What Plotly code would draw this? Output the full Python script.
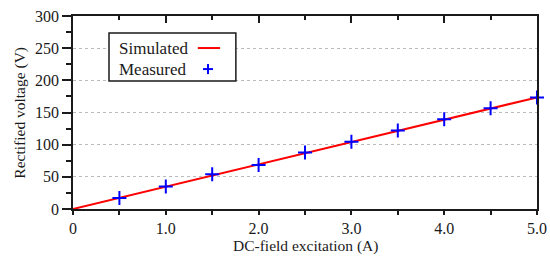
import plotly.graph_objects as go

# Data
sim_x = [0, 0.5, 1.0, 1.5, 2.0, 2.5, 3.0, 3.5, 4.0, 4.5, 5.0]
sim_y = [0, 17.3, 34.7, 52.0, 69.3, 86.7, 104.0, 121.3, 138.7, 156.0, 173.5]
meas_x = [0.5, 1.0, 1.5, 2.0, 2.5, 3.0, 3.5, 4.0, 4.5, 5.0]
meas_y = [17, 35, 54, 68.5, 88, 104.5, 122, 139.5, 156.5, 173.5]
x_tickvals = [0, 1, 2, 3, 4, 5]
x_ticktext = ["0", "1.0", "2.0", "3.0", "4.0", "5.0"]
y_tickvals = [0, 50, 100, 150, 200, 250, 300]
x_title = "DC-field excitation (A)"
y_title = "Rectified voltage (V)"

FONT = "Liberation Serif"
FS = 17      # legend text
FT = 16      # tick labels
FA = 15.5    # axis titles
INK = "#1a1a1a"

fig = go.Figure()
fig.add_trace(go.Scatter(x=sim_x, y=sim_y, mode="lines", name="Simulated",
                         line=dict(color="#ff0000", width=2), showlegend=False))
fig.add_trace(go.Scatter(x=meas_x, y=meas_y, mode="markers", name="Measured",
                         marker=dict(symbol="cross-thin", size=10,
                                     line=dict(color="#0000ff", width=2), color="#0000ff"),
                         cliponaxis=False, showlegend=False))
# carrier trace for the top (mirrored) tick axis
fig.add_trace(go.Scatter(x=sim_x, y=sim_y, xaxis="x2", mode="lines",
                         line=dict(width=0, color="rgba(0,0,0,0)"),
                         hoverinfo="skip", showlegend=False))

fig.update_layout(
    width=550, height=257,
    margin=dict(l=73, r=13, t=16, b=48),
    plot_bgcolor="white", paper_bgcolor="white",
    font=dict(family=FONT, size=FS, color=INK),
    xaxis=dict(range=[0, 5], tickvals=x_tickvals, ticktext=x_ticktext, automargin=False,
               ticks="outside", ticklen=4, tickwidth=1.5, tickcolor=INK,
               minor=dict(dtick=0.5, ticks="outside", ticklen=4, tickwidth=1.5, tickcolor=INK),
               showline=True, linecolor=INK, linewidth=1.5, mirror=True,
               showgrid=False, zeroline=False,
               tickfont=dict(family=FONT, size=FT)),
    xaxis2=dict(range=[0, 5], overlaying="x", side="top", tickvals=x_tickvals, automargin=False,
                ticks="inside", ticklen=7, tickwidth=1.5, tickcolor=INK,
                minor=dict(dtick=0.5, ticks="inside", ticklen=4, tickwidth=1.5, tickcolor=INK),
                showticklabels=False, showgrid=False, zeroline=False, showline=False),
    yaxis=dict(range=[0, 300], tickvals=y_tickvals, automargin=False,
               ticks="outside", ticklen=9, tickwidth=1.5, tickcolor=INK,
               minor=dict(dtick=25, ticks="outside", ticklen=5, tickwidth=1.5, tickcolor=INK,
                          showgrid=False),
               showline=True, linecolor=INK, linewidth=1.5, mirror=True,
               showgrid=True, gridcolor="#bbbbbb", griddash="dot", gridwidth=1,
               zeroline=False,
               tickfont=dict(family=FONT, size=FT)),
)

# Axis titles
fig.add_annotation(xref="paper", yref="paper", x=0.5, y=-0.192, xanchor="center", yanchor="middle",
                   text=x_title, showarrow=False, font=dict(family=FONT, size=FA, color=INK))
fig.add_annotation(xref="paper", yref="paper", x=-0.116, y=0.5, xanchor="center", yanchor="middle",
                   text=y_title, textangle=-90, showarrow=False,
                   font=dict(family=FONT, size=FA, color=INK))

# Custom legend box (symbols on the right, as in reference)
fig.add_shape(type="rect", xref="paper", yref="paper", x0=0.0776, x1=0.351, y0=0.663, y1=0.912,
              line=dict(color=INK, width=1.5), fillcolor="white", layer="above")
fig.add_annotation(xref="paper", yref="paper", x=0.095, y=0.834, xanchor="left", yanchor="middle",
                   text="Simulated", showarrow=False, font=dict(family=FONT, size=FS, color=INK))
fig.add_annotation(xref="paper", yref="paper", x=0.095, y=0.725, xanchor="left", yanchor="middle",
                   text="Measured", showarrow=False, font=dict(family=FONT, size=FS, color=INK))
fig.add_shape(type="line", xref="paper", yref="paper", x0=0.269, x1=0.317, y0=0.834, y1=0.834,
              line=dict(color="#ff0000", width=2), layer="above")
fig.add_shape(type="line", xref="paper", yref="paper", x0=0.291 - 0.0108, x1=0.291 + 0.0108,
              y0=0.725, y1=0.725, line=dict(color="#0000ff", width=2), layer="above")
fig.add_shape(type="line", xref="paper", yref="paper", x0=0.291, x1=0.291,
              y0=0.725 - 0.026, y1=0.725 + 0.026, line=dict(color="#0000ff", width=2), layer="above")

fig.write_html("out.html", config={"displayModeBar": False},
               post_script="document.body.style.margin='0';")
